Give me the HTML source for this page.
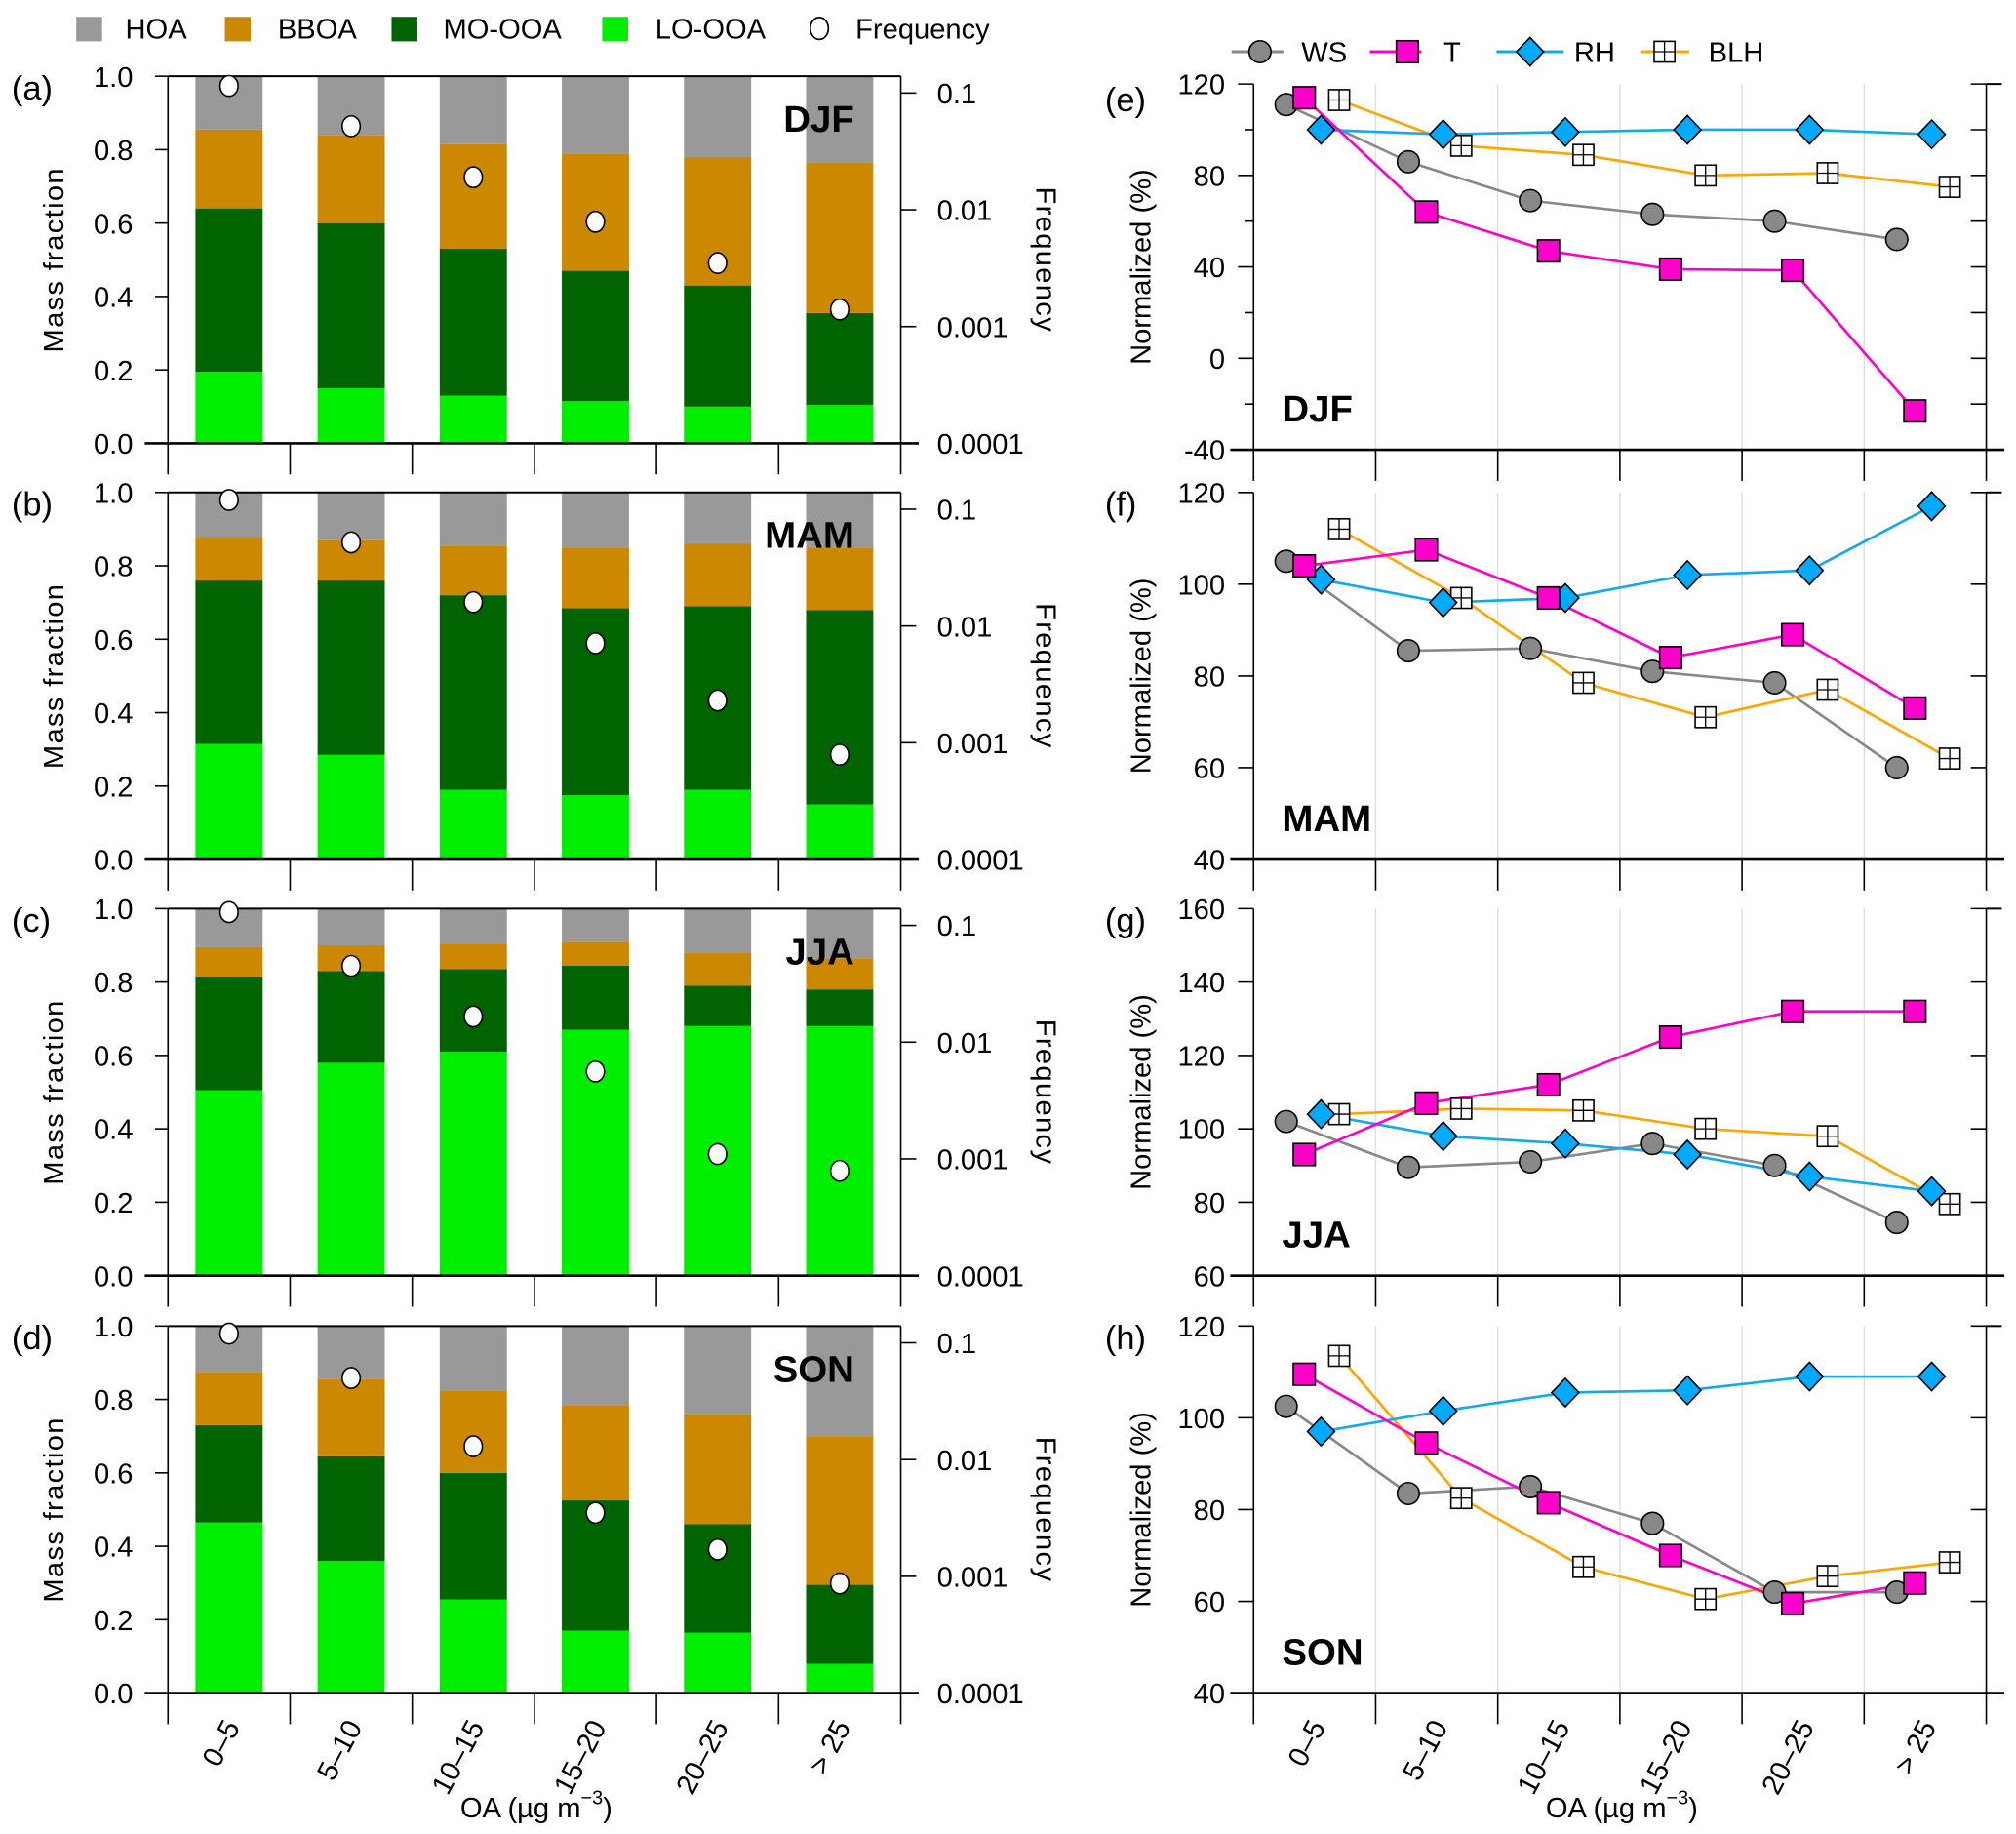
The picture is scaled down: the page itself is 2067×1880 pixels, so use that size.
<!DOCTYPE html>
<html><head><meta charset="utf-8"><style>
html,body{margin:0;padding:0;background:#fff;}
svg{display:block;font-family:"Liberation Sans",Arial,sans-serif;}
</style></head><body>
<svg id="fig" width="2067" height="1880" viewBox="0 0 1560 1419" preserveAspectRatio="none" xmlns="http://www.w3.org/2000/svg"></svg>
<script>
// ---- data ----
const categories = ["0–5","5–10","10–15","15–20","20–25","> 25"];
const seasons = ["DJF","MAM","JJA","SON"];
const leftLetters = ["(a)","(b)","(c)","(d)"];
const rightLetters = ["(e)","(f)","(g)","(h)"];
// mass fractions per component (LO-OOA, MO-OOA, BBOA; HOA = remainder)
const loOOA = [[.195,.15,.13,.115,.10,.105],[.315,.285,.19,.175,.19,.15],[.505,.58,.61,.67,.68,.68],[.465,.36,.255,.17,.165,.08]];
const moOOA = [[.445,.45,.40,.355,.33,.25],[.445,.475,.53,.51,.50,.53],[.31,.25,.225,.175,.11,.10],[.265,.285,.345,.355,.295,.215]];
const bbOA = [[.215,.24,.285,.32,.35,.41],[.115,.11,.135,.165,.17,.17],[.08,.07,.07,.065,.09,.085],[.145,.21,.225,.26,.30,.405]];
const frequency = [[.115,.052,.019,.0079,.0035,.0014],[.12,.052,.016,.0071,.0023,.00079],[.13,.045,.0166,.0056,.0011,.00079],[.12,.05,.013,.0035,.0017,.00087]];
const massTicks = [0,0.2,0.4,0.6,0.8,1.0];
const freqTicks = [0.0001,0.001,0.01,0.1];
const freqTickLabels = ["0.0001","0.001","0.01","0.1"];
// meteorological normalized values
const WS = [[111,86,69,63,60,52],[105,85.5,86,81,78.5,60],[102,89.5,91,96,90,74.5],[102.5,83.5,85,77,62,62]];
const T  = [[114,64,47,39,38.5,-23],[104,107.5,97,84,89,73],[93,107,112,125,132,132],[109.5,94.5,81.5,70,59.5,64]];
const RH = [[100,98,99,100,100,98],[101,96,97,102,103,117],[104,98,96,93,87,83],[97,101.5,105.5,106,109,109]];
const BLH= [[113,93,89,80,81,75],[112,97,78.5,71,77,62],[104,105.5,105,100,98,79.5],[113.5,82.5,67.5,60.5,65.5,68.5]];
const yMin = [-40,40,60,40];
const yMax = [120,120,160,120];
const yStep = [40,20,20,20];

// ---- layout ----
const NS="http://www.w3.org/2000/svg";
const svg=document.getElementById('fig');
function mk(tag,attrs,parent,text){const e=document.createElementNS(NS,tag);for(const k in attrs)e.setAttribute(k,attrs[k]);if(text!==undefined)e.textContent=text;(parent||svg).appendChild(e);return e;}
const panelTop=[59,381,703,1026], panelH=284;
const LX0=130,LX1=697,RX0=970,RX1=1537;
const catW=(LX1-LX0)/6;
function xL(i){return LX0+catW*(i+0.5);}
function xR(i){return RX0+catW*(i+0.5);}
const colors={HOA:"#999999",BBOA:"#cc8800",MO:"#006400",LO:"#00ee00"};
const FS=22;

// ---- legends ----
const lg=mk('g',{});

[["HOA",colors.HOA,59,97],["BBOA",colors.BBOA,174,215],["MO-OOA",colors.MO,303,343],["LO-OOA",colors.LO,466,507]].forEach(d=>{
  const r=mk('rect',{x:d[2],y:13,width:20,height:19,fill:d[1]},lg);
  
  const t=mk('text',{x:d[3],y:30,'font-size':FS},lg,d[0]);
  
});
mk('ellipse',{cx:634,cy:22,rx:7,ry:8.5,fill:'#fff',stroke:'#000','stroke-width':1.3},lg);
const ft=mk('text',{x:662,y:30,'font-size':FS},lg,"Frequency");


const rg=mk('g',{});

function marker(type,x,y,g){
  if(type==='WS') return mk('circle',{cx:x,cy:y,r:8.5,fill:'#888',stroke:'#000','stroke-width':1.2},g);
  if(type==='T') return mk('rect',{x:x-8.5,y:y-8.5,width:17,height:17,fill:'#ff00cc',stroke:'#000','stroke-width':1.2},g);
  if(type==='RH') return mk('polygon',{points:`${x},${y-11} ${x+10.5},${y} ${x},${y+11} ${x-10.5},${y}`,fill:'#00aaff',stroke:'#000','stroke-width':1.2},g);
  const gg=mk('g',{},g);
  mk('rect',{x:x-8,y:y-8,width:16,height:16,fill:'#fff',stroke:'#000','stroke-width':1.2},gg);
  mk('path',{d:`M${x} ${y-8}V${y+8}M${x-8} ${y}H${x+8}`,stroke:'#000','stroke-width':1},gg);
  return gg;
}
const lineCol={WS:'#888888',T:'#ff00cc',RH:'#11aaee',BLH:'#ffa500'};
[["WS",953,993,975,1007],["T",1060,1100,1089,1117],["RH",1158,1210,1184,1218],["BLH",1270,1307,1288,1322]].forEach(d=>{
  mk('line',{x1:d[1],y1:40,x2:d[2],y2:40,stroke:lineCol[d[0]],'stroke-width':2.2},rg);
  const m=marker(d[0],d[3],40,rg);
  
  const t=mk('text',{x:d[4],y:48,'font-size':FS},rg,d[0]);
  
});

// ---- left panels ----
for(let p=0;p<4;p++){
  const top=panelTop[p],bot=top+panelH;
  const g=mk('g',{});
  
  const yM=v=>bot-v*panelH;
  const logTop=Math.log10(0.1)+(72-59)/90.5;
  const yF=f=>bot-(Math.log10(f)+4)/(logTop+4)*panelH;
  for(let i=0;i<6;i++){
    const lo=loOOA[p][i],mo=moOOA[p][i],bb=bbOA[p][i];
    const bw=52,x=xL(i)-bw/2;
    const segs=[["lo-ooa",0,lo,colors.LO],["mo-ooa",lo,lo+mo,colors.MO],["bboa",lo+mo,lo+mo+bb,colors.BBOA],["hoa",lo+mo+bb,1,colors.HOA]];
    segs.forEach(s=>{
      const r=mk('rect',{x:x,y:yM(s[2]),width:bw,height:yM(s[1])-yM(s[2]),fill:s[3]},g);
      
      
    });
  }
  mk('line',{x1:LX0,y1:top,x2:LX1,y2:top,stroke:'#000','stroke-width':1.5},g);
  mk('line',{x1:LX0,y1:top,x2:LX0,y2:bot+24,stroke:'#000','stroke-width':1.2},g);
  mk('line',{x1:LX1,y1:top,x2:LX1,y2:bot+24,stroke:'#000','stroke-width':1.2},g);
  mk('line',{x1:LX0-18,y1:bot,x2:LX1+14,y2:bot,stroke:'#000','stroke-width':2},g);
  for(let k=1;k<6;k++) mk('line',{x1:LX0+catW*k,y1:bot,x2:LX0+catW*k,y2:bot+24,stroke:'#000','stroke-width':1.2},g);
  massTicks.forEach(v=>{
    mk('line',{x1:LX0-10,y1:yM(v),x2:LX0,y2:yM(v),stroke:'#000','stroke-width':1.2},g);
    mk('text',{x:103,y:yM(v)+8,'font-size':FS,'text-anchor':'end'},g,v.toFixed(1));
  });
  freqTicks.forEach((v,k)=>{
    mk('line',{x1:LX1,y1:yF(v),x2:LX1+12,y2:yF(v),stroke:'#000','stroke-width':1.2},g);
    mk('text',{x:725,y:yF(v)+8,'font-size':FS},g,freqTickLabels[k]);
  });
  for(let i=0;i<6;i++){
    const c=mk('ellipse',{cx:xL(i),cy:yF(frequency[p][i]),rx:7,ry:8,fill:'#fff',stroke:'#000','stroke-width':1.2},g);
    
    
  }
  mk('text',{x:9,y:top+18,'font-size':26},g,leftLetters[p]);
  mk('text',{x:661,y:top+43,'font-size':29,'font-weight':'bold','text-anchor':'end'},g,seasons[p]);
  const yt=mk('text',{x:0,y:0,'font-size':FS,'text-anchor':'middle','letter-spacing':'1',transform:`translate(49,${top+142}) rotate(-90)`},g,"Mass fraction");
  
  const y2=mk('text',{x:0,y:0,'font-size':FS,'text-anchor':'middle','letter-spacing':'1',transform:`translate(802,${top+142}) rotate(90)`},g,"Frequency");
  
}

// ---- right panels ----
const series={WS:WS,T:T,RH:RH,BLH:BLH};
const offs={WS:-22,T:-8,RH:5,BLH:19};
for(let p=0;p<4;p++){
  const top=panelTop[p]+(p===0?6:0),bot=panelTop[p]+panelH+(p===0?5:0);
  const g=mk('g',{});
  
  const yV=v=>bot-(v-yMin[p])/(yMax[p]-yMin[p])*(bot-top);
  for(let k=1;k<6;k++) mk('line',{x1:RX0+catW*k,y1:top,x2:RX0+catW*k,y2:bot,stroke:'#dddddd','stroke-width':1},g);
  mk('line',{x1:RX0,y1:top,x2:RX0,y2:bot+24,stroke:'#000','stroke-width':1.2},g);
  mk('line',{x1:RX1,y1:top,x2:RX1,y2:bot+24,stroke:'#000','stroke-width':1.2},g);
  mk('line',{x1:RX1,y1:top,x2:RX1+12,y2:top,stroke:'#000','stroke-width':1.5},g);
  mk('line',{x1:RX0-18,y1:bot,x2:RX1+14,y2:bot,stroke:'#000','stroke-width':2},g);
  for(let k=1;k<6;k++) mk('line',{x1:RX0+catW*k,y1:bot,x2:RX0+catW*k,y2:bot+24,stroke:'#000','stroke-width':1.2},g);
  for(let v=yMin[p];v<=yMax[p];v+=yStep[p]){
    mk('line',{x1:RX0-12,y1:yV(v),x2:RX0,y2:yV(v),stroke:'#000','stroke-width':1.2},g);
    mk('line',{x1:RX1-12,y1:yV(v),x2:RX1,y2:yV(v),stroke:'#000','stroke-width':1.2},g);
    mk('text',{x:948,y:yV(v)+8,'font-size':FS,'text-anchor':'end'},g,String(v));
    if(p===0&&v<yMax[p]){const m=v+yStep[p]/2;
      mk('line',{x1:RX0-7,y1:yV(m),x2:RX0,y2:yV(m),stroke:'#000','stroke-width':1.2},g);
      mk('line',{x1:RX1-12,y1:yV(m),x2:RX1,y2:yV(m),stroke:'#000','stroke-width':1.2},g);}
  }
  ["WS","BLH","RH","T"].forEach(s=>{
    const vals=series[s][p];
    const pts=vals.map((v,i)=>(xR(i)+offs[s])+','+yV(v)).join(' ');
    const pl=mk('polyline',{points:pts,fill:'none',stroke:lineCol[s],'stroke-width':2},g);
    
    
  });
  ["WS","BLH","RH","T"].forEach(s=>{
    series[s][p].forEach((v,i)=>{
      const m=marker(s,xR(i)+offs[s],yV(v),g);
      
      
    });
  });
  mk('text',{x:855,y:panelTop[p]+(p===0?27:18),'font-size':26},g,rightLetters[p]);
  mk('text',{x:992,y:bot-22,'font-size':29,'font-weight':'bold'},g,seasons[p]);
  const yt=mk('text',{x:0,y:0,'font-size':FS,'text-anchor':'middle',transform:`translate(890,${(top+bot)/2}) rotate(-90)`},g,"Normalized (%)");
  
}

// ---- category labels & x titles ----
[[xL,415,'left'],[xR,1255,'right']].forEach(d=>{
  categories.forEach((c,i)=>{
    const t=mk('text',{x:0,y:0,'font-size':FS,'text-anchor':'end',transform:`translate(${d[0](i)+9},1336) rotate(-62)`},svg,c);
    
  });
  const t=mk('text',{x:d[1],y:1406,'font-size':FS,'text-anchor':'middle'},svg);
  
  t.appendChild(document.createTextNode('OA (µg m'));
  mk('tspan',{dy:-10,'font-size':15},t,'−3');
  mk('tspan',{dy:10},t,')');
});
</script>
</body></html>
